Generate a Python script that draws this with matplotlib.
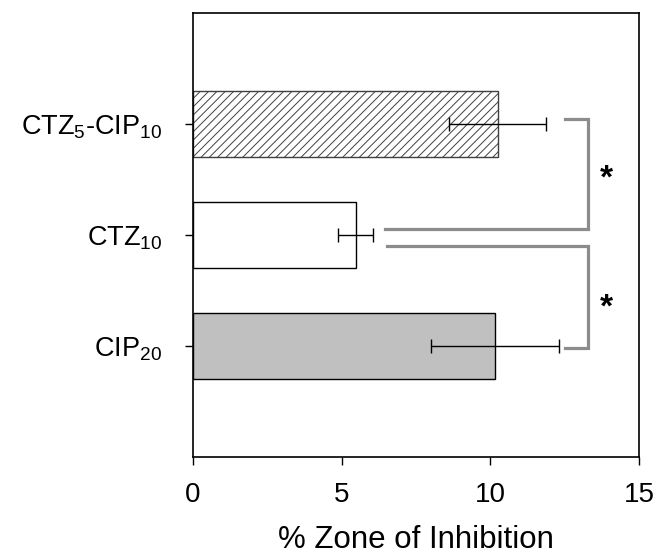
import matplotlib
matplotlib.use("Agg")
import matplotlib.pyplot as plt

plt.rcParams['font.family'] = ['Liberation Sans', 'DejaVu Sans']
plt.rcParams['mathtext.fontset'] = 'custom'
plt.rcParams['mathtext.rm'] = 'Liberation Sans'
plt.rcParams['mathtext.it'] = 'Liberation Sans'
plt.rcParams['hatch.linewidth'] = 0.7

# bottom to top
groups = ["CIP$_{20}$", "CTZ$_{10}$", "CTZ$_5$-CIP$_{10}$"]
means = [10.16, 5.48, 10.25]
errs = [2.14, 0.59, 1.63]
fills = ["#c0c0c0", "white", "white"]
hatches = [None, None, "////"]

# significance brackets: (x_left_top, y_top, x_left_bottom, y_bottom, x_right)
brackets = [(12.52, 3.045, 6.45, 2.05, 13.28),
            (6.53, 1.90, 12.52, 0.985, 13.28)]
stars_y = [2.50, 1.34]

fig = plt.figure(figsize=(6.56, 5.54), dpi=100)
ax = fig.add_axes([0.294, 0.175, 0.68, 0.8015])

ypos = [1, 2, 3]
for y, m, e, fc, h in zip(ypos, means, errs, fills, hatches):
    ax.barh(y, m, height=0.6, color=fc, edgecolor="black", linewidth=1.0,
            hatch=h)
    ax.errorbar(m, y, xerr=e, fmt="none", ecolor="black", elinewidth=1.0,
                capsize=5, capthick=1.0)

# hatch colour
for p in ax.patches:
    if p.get_hatch():
        p.set_edgecolor("#404040")
        p.set_linewidth(1.0)

gray = "#8c8c8c"
for (x1, y1, x2, y2, xr) in brackets:
    ax.plot([x1, xr, xr, x2], [y1, y1, y2, y2], color=gray, lw=2.3,
            solid_joinstyle="miter")
for sy in stars_y:
    ax.text(13.9, sy, "*", fontsize=24, fontweight="bold", ha="center",
            va="center")

ax.set_xlim(0, 15)
ax.set_ylim(0, 4)
ax.set_xticks([0, 5, 10, 15])
ax.set_yticks(ypos)
ax.set_yticklabels(groups)
ax.tick_params(axis="x", direction="out", length=6, width=1, labelsize=20, pad=12)
ax.tick_params(axis="y", direction="out", length=6, width=1, labelsize=19.5, pad=16)
ax.set_xlabel("% Zone of Inhibition", fontsize=22.5, labelpad=12)
for s in ax.spines.values():
    s.set_linewidth(1.2)

fig.savefig("out.png", dpi=100)
